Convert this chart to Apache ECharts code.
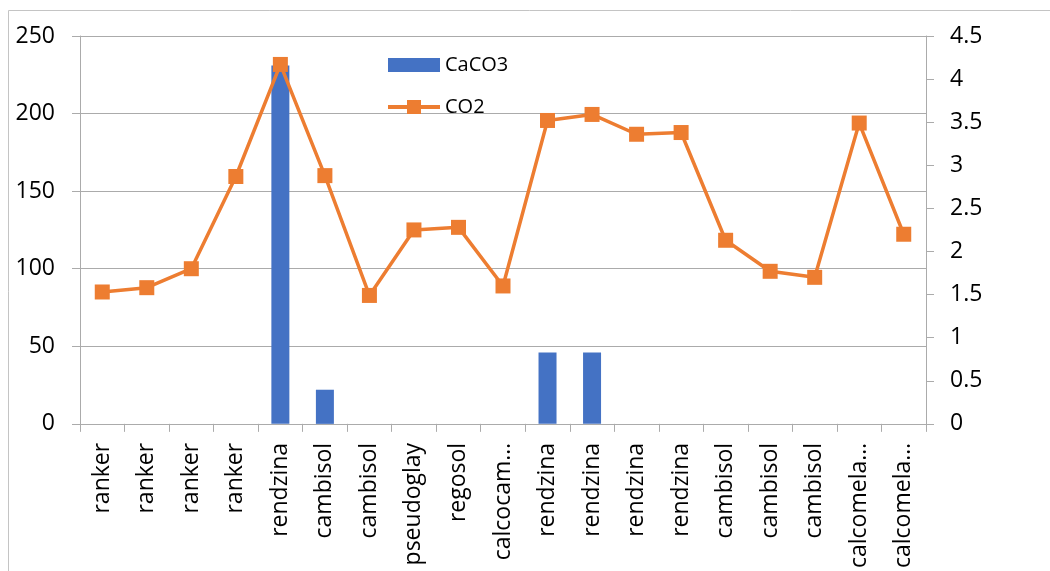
<!DOCTYPE html>
<html>
<head>
<meta charset="utf-8">
<script src="https://cdn.jsdelivr.net/npm/echarts@6/dist/echarts.min.js"></script>
<style>
  html, body { margin: 0; padding: 0; background: #ffffff; }
  #chart { width: 1050px; height: 571px; }
</style>
</head>
<body>
<div id="chart"></div>
<script>
// Soil types, in sample order
const soilTypes = [
  'ranker', 'ranker', 'ranker', 'ranker', 'rendzina', 'cambisol', 'cambisol',
  'pseudoglay', 'regosol', 'calcocam…', 'rendzina', 'rendzina', 'rendzina',
  'rendzina', 'cambisol', 'cambisol', 'cambisol', 'calcomela…', 'calcomela…'
];

// CaCO3 content (left axis)
const caco3 = [0, 0, 0, 0, 231, 22, 0, 0, 0, 0, 46, 46, 0, 0, 0, 0, 0, 0, 0];

// CO2 (right axis)
const co2 = [1.53, 1.58, 1.8, 2.87, 4.17, 2.88, 1.49, 2.25, 2.28, 1.6,
             3.52, 3.59, 3.36, 3.38, 2.13, 1.77, 1.7, 3.49, 2.2];

const FONT = '"Open Sans", "Noto Sans", sans-serif';
const GRID_GREY = '#ababab';

// legend glyph for the CO2 series: a thick line with a square marker in the middle
const LINE_MARKER_ICON = 'path://M0,5H19V0H33V5H52V9H33V14H19V9H0Z';

const chart = echarts.init(document.getElementById('chart'), null, { renderer: 'canvas' });

chart.setOption({
  backgroundColor: '#ffffff',
  animation: false,
  textStyle: { fontFamily: FONT, color: '#000000' },
  graphic: [{
    type: 'rect',
    shape: { x: 8.5, y: 10.5, width: 1100, height: 620 },
    style: { fill: 'none', stroke: '#c4c4c4', lineWidth: 1 },
    silent: true,
    z: -10
  }],
  legend: {
    orient: 'vertical',
    left: 383,
    top: 50,
    itemWidth: 52,
    itemHeight: 14,
    itemGap: 22,
    textStyle: { fontFamily: FONT, fontSize: 20, color: '#000000' },
    data: [
      { name: 'CaCO3', icon: 'rect' },
      { name: 'CO2', icon: LINE_MARKER_ICON }
    ]
  },
  grid: { left: 80, right: 124, top: 36, bottom: 143, containLabel: false },
  xAxis: {
    type: 'category',
    data: soilTypes,
    boundaryGap: true,
    axisLine: { show: true, lineStyle: { color: GRID_GREY, width: 1 } },
    axisTick: { show: true, length: 8, alignWithLabel: false, lineStyle: { color: GRID_GREY } },
    axisLabel: {
      interval: 0,
      rotate: 90,
      margin: 19,
      fontFamily: FONT,
      fontSize: 23,
      color: '#000000'
    }
  },
  yAxis: [
    {
      type: 'value',
      min: 0,
      max: 250,
      interval: 50,
      axisLine: { show: true, lineStyle: { color: GRID_GREY, width: 1 } },
      axisTick: { show: true, length: 8, lineStyle: { color: GRID_GREY } },
      splitLine: { show: true, lineStyle: { color: GRID_GREY, width: 1 } },
      axisLabel: { margin: 25, fontFamily: FONT, fontSize: 23, color: '#000000' }
    },
    {
      type: 'value',
      min: 0,
      max: 4.5,
      interval: 0.5,
      position: 'right',
      axisLine: { show: true, lineStyle: { color: GRID_GREY, width: 1 } },
      axisTick: { show: true, length: 8, lineStyle: { color: GRID_GREY } },
      splitLine: { show: false },
      axisLabel: { margin: 24, fontFamily: FONT, fontSize: 23, color: '#000000' }
    }
  ],
  series: [
    {
      name: 'CaCO3',
      type: 'bar',
      yAxisIndex: 0,
      data: caco3,
      barWidth: 18,
      itemStyle: { color: '#4472C4' }
    },
    {
      name: 'CO2',
      type: 'line',
      yAxisIndex: 1,
      data: co2,
      symbol: 'rect',
      symbolSize: 15,
      lineStyle: { color: '#ED7D31', width: 3.5 },
      itemStyle: { color: '#ED7D31' }
    }
  ]
});
</script>
</body>
</html>
